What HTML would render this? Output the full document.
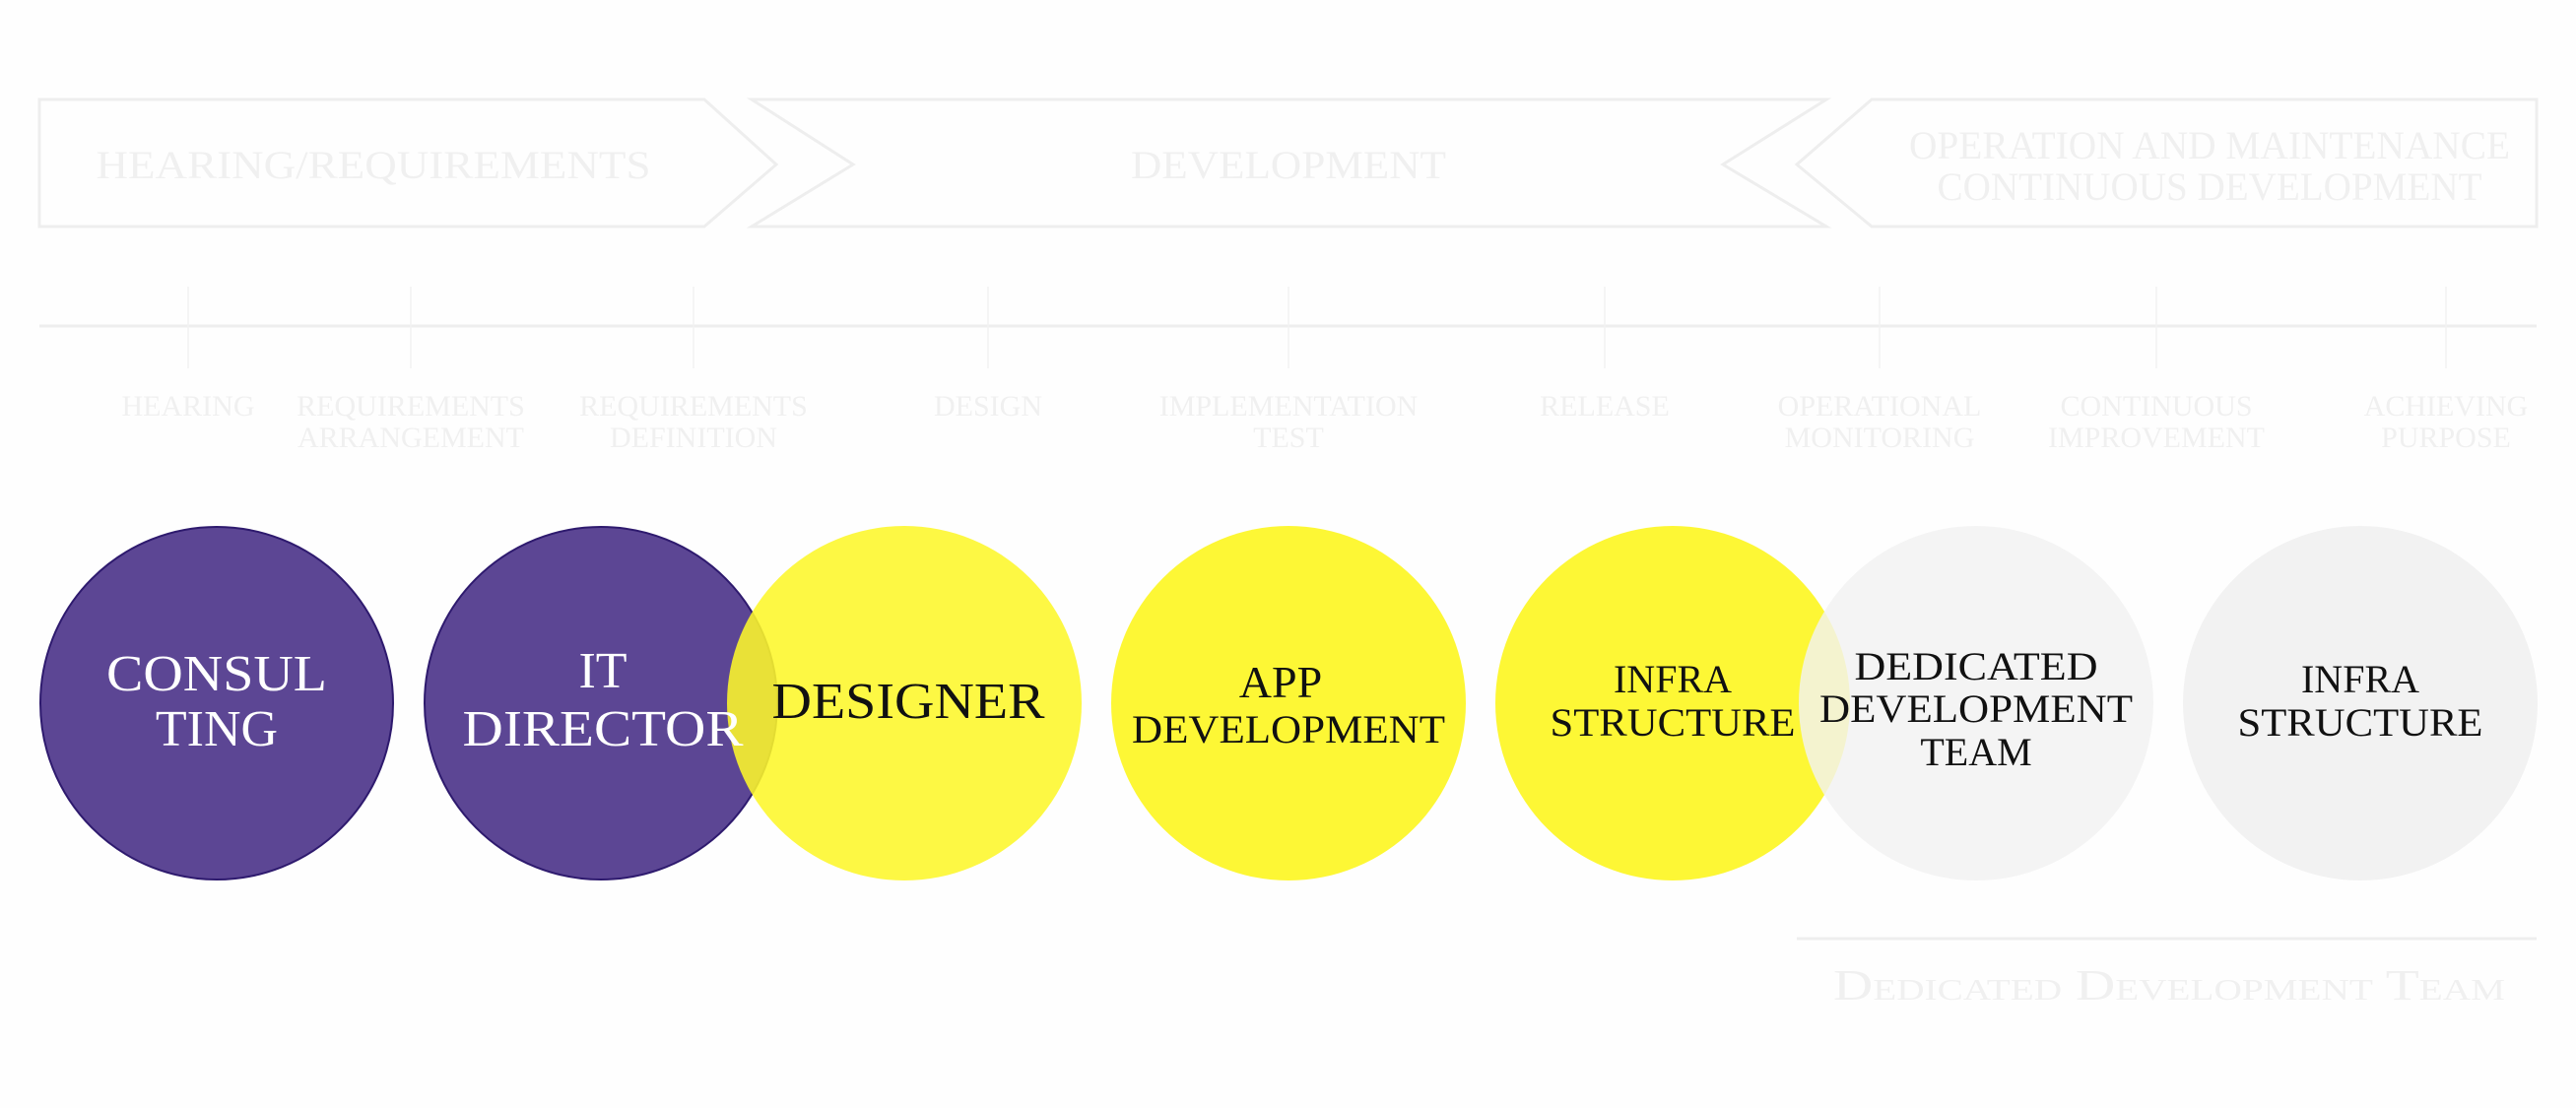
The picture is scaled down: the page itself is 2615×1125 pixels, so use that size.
<!DOCTYPE html>
<html><head><meta charset="utf-8"><style>
html,body{margin:0;padding:0;background:#fefefe;}
svg{display:block;}
text{font-family:"Liberation Serif",serif;}
</style></head><body>
<svg width="2615" height="1125" viewBox="0 0 2615 1125" xmlns="http://www.w3.org/2000/svg">
<rect width="2615" height="1125" fill="#fefefe"/>
<g fill="none" stroke="#eeeeee" stroke-width="3">
<polygon points="40,101 715,101 788,167 715,230 40,230"/>
<polygon points="763,101 1854,101 1749,167 1854,230 763,230 866,167"/>
<polygon points="1900,101 2575,101 2575,230 1900,230 1824,167"/>
<line x1="40" y1="331" x2="2575" y2="331"/>
</g>
<g stroke="#f2f2f2" stroke-width="1.5">
<line x1="191" y1="291" x2="191" y2="374"/><line x1="417" y1="291" x2="417" y2="374"/>
<line x1="704" y1="291" x2="704" y2="374"/><line x1="1003" y1="291" x2="1003" y2="374"/>
<line x1="1308" y1="291" x2="1308" y2="374"/><line x1="1629" y1="291" x2="1629" y2="374"/>
<line x1="1908" y1="291" x2="1908" y2="374"/><line x1="2189" y1="291" x2="2189" y2="374"/>
<line x1="2483" y1="291" x2="2483" y2="374"/>
</g>
<g fill="#f0f0f0" font-size="40" text-anchor="middle">
<text x="379" y="181" textLength="563" lengthAdjust="spacingAndGlyphs">HEARING/REQUIREMENTS</text>
<text x="1308" y="181" textLength="320" lengthAdjust="spacingAndGlyphs">DEVELOPMENT</text>
<text x="2243" y="161" textLength="610" lengthAdjust="spacingAndGlyphs">OPERATION AND MAINTENANCE</text>
<text x="2243" y="203" textLength="553" lengthAdjust="spacingAndGlyphs">CONTINUOUS DEVELOPMENT</text>
</g>
<g fill="#f0f0f0" font-size="30" text-anchor="middle">
<text x="191" y="422">HEARING</text>
<text x="417" y="422">REQUIREMENTS</text><text x="417" y="454">ARRANGEMENT</text>
<text x="704" y="422">REQUIREMENTS</text><text x="704" y="454">DEFINITION</text>
<text x="1003" y="422">DESIGN</text>
<text x="1308" y="422">IMPLEMENTATION</text><text x="1308" y="454">TEST</text>
<text x="1629" y="422">RELEASE</text>
<text x="1908" y="422">OPERATIONAL</text><text x="1908" y="454">MONITORING</text>
<text x="2189" y="422">CONTINUOUS</text><text x="2189" y="454">IMPROVEMENT</text>
<text x="2483" y="422">ACHIEVING</text><text x="2483" y="454">PURPOSE</text>
</g>
<circle cx="220" cy="714" r="179" fill="#5c4694" stroke="#2e1a6e" stroke-width="2"/>
<circle cx="610" cy="714" r="179" fill="#5c4694" stroke="#2e1a6e" stroke-width="2"/>
<circle cx="918" cy="714" r="180" fill="#fdf72a" fill-opacity="0.88"/>
<circle cx="1308" cy="714" r="180" fill="#fdf72a" fill-opacity="0.95"/>
<circle cx="1698" cy="714" r="180" fill="#fdf72a" fill-opacity="0.95"/>
<circle cx="2006" cy="714" r="180" fill="#f2f2f2" fill-opacity="0.82"/>
<circle cx="2396" cy="714" r="180" fill="#f2f2f2"/>
<g fill="#ffffff" font-size="52" text-anchor="middle">
<text x="220" y="701" textLength="224" lengthAdjust="spacingAndGlyphs">CONSUL</text>
<text x="220" y="757">TING</text>
<text x="612" y="698">IT</text>
<text x="612" y="757" textLength="285" lengthAdjust="spacingAndGlyphs">DIRECTOR</text>
</g>
<g fill="#111" text-anchor="middle">
<text x="922" y="729" font-size="52" textLength="277" lengthAdjust="spacingAndGlyphs">DESIGNER</text>
<text x="1300" y="708" font-size="46">APP</text>
<text x="1308" y="754" font-size="40" textLength="318" lengthAdjust="spacingAndGlyphs">DEVELOPMENT</text>
<text x="1698" y="703" font-size="40">INFRA</text>
<text x="1698" y="747" font-size="40" textLength="249" lengthAdjust="spacingAndGlyphs">STRUCTURE</text>
<text x="2006" y="690" font-size="40" textLength="247" lengthAdjust="spacingAndGlyphs">DEDICATED</text>
<text x="2006" y="733" font-size="40" textLength="318" lengthAdjust="spacingAndGlyphs">DEVELOPMENT</text>
<text x="2006" y="777" font-size="40">TEAM</text>
<text x="2396" y="703" font-size="40">INFRA</text>
<text x="2396" y="747" font-size="40" textLength="249" lengthAdjust="spacingAndGlyphs">STRUCTURE</text>
</g>
<line x1="1824" y1="953" x2="2575" y2="953" stroke="#eeeeee" stroke-width="3"/>
<text x="2202" y="1015" fill="#f0f0f0" font-size="44" text-anchor="middle" textLength="682" lengthAdjust="spacingAndGlyphs" style="font-variant:small-caps">Dedicated Development Team</text>
</svg>
</body></html>
